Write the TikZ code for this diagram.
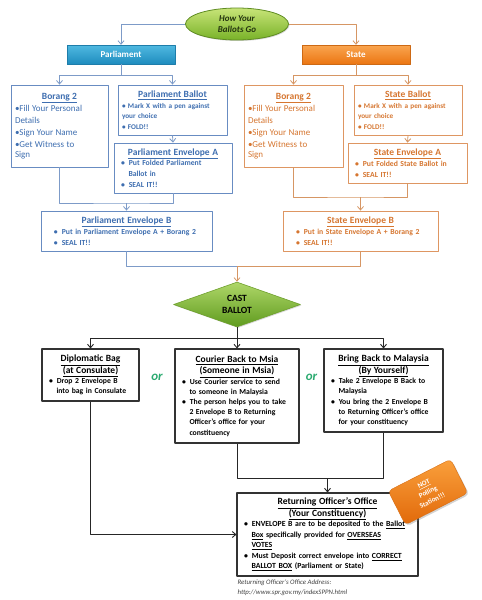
\documentclass[tikz,border=0pt]{standalone}
\usepackage{fontspec}
\setmainfont{Carlito}
\usetikzlibrary{shapes.geometric,arrows.meta,shadows}
\definecolor{parl}{RGB}{104,140,194}
\definecolor{parltxt}{RGB}{62,110,176}
\definecolor{stat}{RGB}{222,150,98}
\definecolor{stattxt}{RGB}{214,118,48}
\definecolor{blline}{RGB}{125,155,200}
\definecolor{orline}{RGB}{214,150,100}
\definecolor{orgreen}{RGB}{43,170,112}
\newcommand\ttl[1]{{\centering\fontsize{9.5}{11.5}\selectfont #1\par}}
\newcommand\bul{\hspace*{3pt}\textbullet\hspace{4pt}}
\newcommand\cnt{\hspace*{10.5pt}}
\tikzset{
  pbox/.style={draw=parl, line width=.8pt, text=parltxt, text width=#1, inner xsep=4pt, inner ysep=2pt, align=left, fill=white},
  sbox/.style={draw=stat, line width=.8pt, text=stattxt, text width=#1, inner xsep=4pt, inner ysep=2pt, align=left, fill=white},
  kbox/.style={draw=black!80, line width=1.1pt, text=black, text width=#1, inner xsep=4pt, inner ysep=2pt, align=left, fill=white,
    font=\fontsize{7.7}{10.2}\selectfont\bfseries, drop shadow={shadow xshift=1.2pt, shadow yshift=-1.2pt, opacity=.35}},
  ballot/.style={font=\fontsize{7.2}{10.5}\selectfont\bfseries},
  envel/.style={font=\fontsize{7.7}{10.7}\selectfont\bfseries},
  head/.style={rectangle, minimum width=108pt, minimum height=19pt, text=white, font=\fontsize{9}{11}\selectfont\bfseries,
    drop shadow={shadow xshift=1pt, shadow yshift=-1pt, opacity=.3}},
  orword/.style={text=orgreen, font=\fontsize{13}{13}\selectfont\bfseries\itshape}
}
\begin{document}
\begin{tikzpicture}[x=1pt, y=-1pt, >={Straight Barb[length=3.5pt,width=6pt]}, line join=round,
    font=\fontsize{7}{10}\selectfont\bfseries]
  \useasboundingbox (0,0) rectangle (482,600);
  % top
  \node[ellipse, draw={rgb,255:red,95;green,140;blue,35}, line width=.8pt, top color={rgb,255:red,200;green,228;blue,120},
    bottom color={rgb,255:red,120;green,178;blue,40}, minimum width=103pt, minimum height=32pt, inner sep=0pt, align=center,
    text={rgb,255:red,35;green,50;blue,15}, font=\fontsize{9}{11}\selectfont\bfseries\itshape,
    drop shadow={shadow xshift=1pt, shadow yshift=-1pt, opacity=.3}] (how) at (237,24) {How Your\\Ballots Go};
  \node[head, draw={rgb,255:red,30;green,125;blue,170}, top color={rgb,255:red,80;green,185;blue,225},
    bottom color={rgb,255:red,30;green,140;blue,190}] (parl) at (121,54.5) {Parliament};
  \node[head, draw={rgb,255:red,205;green,105;blue,20}, top color={rgb,255:red,250;green,165;blue,80},
    bottom color={rgb,255:red,235;green,118;blue,18}] (state) at (356,54.5) {State};
  \draw[blline, line width=.8pt, ->] (how.west) -| (parl.north);
  \draw[orline, line width=.8pt, ->] (how.east) -| (state.north);

  % parliament side
  \node[pbox=89pt, minimum height=82pt] (borangP) at (59.5,126)
    {\ttl{\underline{Borang 2}}\mdseries\fontsize{9}{12}\selectfont
     \textbullet Fill Your Personal\\Details\\\textbullet Sign Your Name\\\textbullet Get Witness to\\Sign};
  \node[pbox=101pt, ballot, minimum height=50pt] (ballotP) at (172.5,110)
    {\ttl{\underline{Parliament Ballot}}\textbullet\ Mark X with a pen against\\your choice\\\textbullet\ FOLD!!};
  \node[pbox=110pt, envel, minimum height=50pt] (envAP) at (173,168)
    {\ttl{\underline{Parliament Envelope A}}\bul Put Folded Parliament\\\cnt Ballot in\\\bul SEAL IT!!};
  \node[pbox=163pt, envel, minimum height=40pt] (envBP) at (126.5,231)
    {\ttl{\underline{Parliament Envelope B}}\hspace*{6pt}\bul Put in Parliament Envelope A + Borang 2\\\hspace*{6pt}\bul SEAL IT!!};
  \coordinate (pfork) at (121,75);
  \draw[blline, line width=.8pt] (parl.south) -- (pfork);
  \draw[blline, line width=.8pt, ->] (pfork) -| (borangP.north);
  \draw[blline, line width=.8pt, ->] (pfork) -| (ballotP.north);
  \draw[blline, line width=.8pt, ->] (ballotP.south) -- (envAP.north);
  \coordinate (pmerge) at (126.5,203);
  \draw[blline, line width=.8pt] (borangP.south) |- (pmerge) -| (envAP.south);
  \draw[blline, line width=.8pt, ->] (pmerge) -- (envBP.north);

  % state side
  \node[sbox=91pt, minimum height=82pt] (borangS) at (293.5,126)
    {\ttl{\underline{Borang 2}}\mdseries\fontsize{9}{12}\selectfont
     \textbullet Fill Your Personal\\Details\\\textbullet Sign Your Name\\\textbullet Get Witness to\\Sign};
  \node[sbox=100pt, ballot, minimum height=50pt] (ballotS) at (408,110)
    {\ttl{\underline{State Ballot}}\textbullet\ Mark X with a pen against\\your choice\\\textbullet\ FOLD!!};
  \node[sbox=111pt, envel, minimum height=40pt] (envAS) at (407.5,163)
    {\ttl{\underline{State Envelope A}}\bul Put Folded State Ballot in\\\bul SEAL IT!!};
  \node[sbox=147pt, envel, minimum height=40pt] (envBS) at (360.5,231)
    {\ttl{\underline{State Envelope B}}\hspace*{6pt}\bul Put in State Envelope A + Borang 2\\\hspace*{6pt}\bul SEAL IT!!};
  \coordinate (sfork) at (356,75);
  \draw[orline, line width=.8pt] (state.south) -- (sfork);
  \draw[orline, line width=.8pt, ->] (sfork) -| (borangS.north);
  \draw[orline, line width=.8pt, ->] (sfork) -| (ballotS.north);
  \draw[orline, line width=.8pt, ->] (ballotS.south) -- (envAS.north);
  \coordinate (smerge) at (360.5,197);
  \draw[orline, line width=.8pt] (borangS.south) |- (smerge) -| (envAS.south);
  \draw[orline, line width=.8pt, ->] (smerge) -- (envBS.north);

  % cast
  \node[diamond, aspect=2.8, minimum width=127pt, minimum height=45pt, inner sep=0pt, align=center,
    draw={rgb,255:red,110;green,160;blue,45}, line width=.6pt, top color={rgb,255:red,175;green,215;blue,105},
    bottom color={rgb,255:red,95;green,155;blue,30}, font=\fontsize{9.5}{12}\selectfont\bfseries,
    drop shadow={shadow xshift=1pt, shadow yshift=-1pt, opacity=.3}] (cast) at (237,304.5) {CAST\\BALLOT};
  \coordinate (bmerge) at (237,266);
  \draw[blline, line width=.8pt] (envBP.south) |- (bmerge);
  \draw[orline, line width=.8pt] (envBS.south) |- (bmerge);
  \draw[orline, line width=.8pt, ->] (bmerge) -- (cast.north);

  % ways
  \node[kbox=89pt, minimum height=52pt] (dipl) at (90.5,375)
    {\ttl{\underline{Diplomatic Bag}\\\underline{(at Consulate)}}\bul Drop 2 Envelope B\\\cnt into bag in Consulate};
  \node[kbox=116pt, minimum height=94pt] (cour) at (237,396)
    {\ttl{\underline{Courier Back to Msia}\\\underline{(Someone in Msia)}}\bul Use Courier service to send\\\cnt to someone in Malaysia\\
     \bul The person helps you to take\\\cnt 2 Envelope B to Returning\\\cnt Officer’s office for your\\\cnt constituency};
  \node[kbox=111pt, minimum height=83pt] (bring) at (383.5,390.5)
    {\ttl{\underline{Bring Back to Malaysia}\\\underline{(By Yourself)}}\bul Take 2 Envelope B Back to\\\cnt Malaysia\\
     \bul You bring the 2 Envelope B\\\cnt to Returning Officer’s office\\\cnt for your constituency};
  \node[orword] (or1) at (157,377) {or};
  \node[orword] (or2) at (311.5,377) {or};
  \coordinate (cfork) at (237,338);
  \draw[black!85, line width=.9pt] (cast.south) -- (cfork);
  \draw[black!85, line width=.9pt, ->] (cfork) -| (dipl.north);
  \draw[black!85, line width=.9pt, ->] (cfork) -| (bring.north);
  \draw[black!85, line width=.9pt, ->] (cfork) -- (cour.north);

  % office
  \node[kbox=173pt, minimum height=83pt, font=\fontsize{7.8}{10.5}\selectfont\bfseries] (ret) at (327.5,534.5)
    {\ttl{\underline{Returning Officer’s Office}\\\underline{(Your Constituency)}}
     \bul ENVELOPE B are to be deposited to the \underline{Ballot}\\\cnt \underline{Box} specifically provided for \underline{OVERSEAS}\\
     \cnt \underline{VOTES}\\\bul Must Deposit correct envelope into \underline{CORRECT}\\\cnt \underline{BALLOT BOX} (Parliament or State)};
  \coordinate (rmerge) at (327.5,478);
  \draw[black!85, line width=.9pt] (cour.south) |- (rmerge);
  \draw[black!85, line width=.9pt] (bring.south) |- (rmerge);
  \draw[black!85, line width=.9pt, ->] (rmerge) -- (ret.north);
  \draw[black!85, line width=.9pt, ->] (dipl.south) |- (ret.west);
  \node[anchor=north west, inner sep=0pt, align=left, text=black!75, font=\fontsize{6.8}{10}\selectfont\itshape] (addr)
    at ([xshift=1pt, yshift=-3pt]ret.south west) {Returning Officer’s Office Address:\\http://www.spr.gov.my/indexSPPN.html};
  \node[rectangle, rounded corners=4pt, rotate=27, minimum width=70pt, minimum height=38pt, inner sep=1pt, align=center,
    draw={rgb,255:red,215;green,110;blue,20}, top color={rgb,255:red,250;green,160;blue,60},
    bottom color={rgb,255:red,225;green,105;blue,10}, text=white, font=\fontsize{7}{9.5}\selectfont\bfseries,
    drop shadow={shadow xshift=1.5pt, shadow yshift=-1.5pt, opacity=.35}] (notps) at (428,492) {\underline{NOT}\\Polling\\Station!!!};
\end{tikzpicture}
\end{document}
